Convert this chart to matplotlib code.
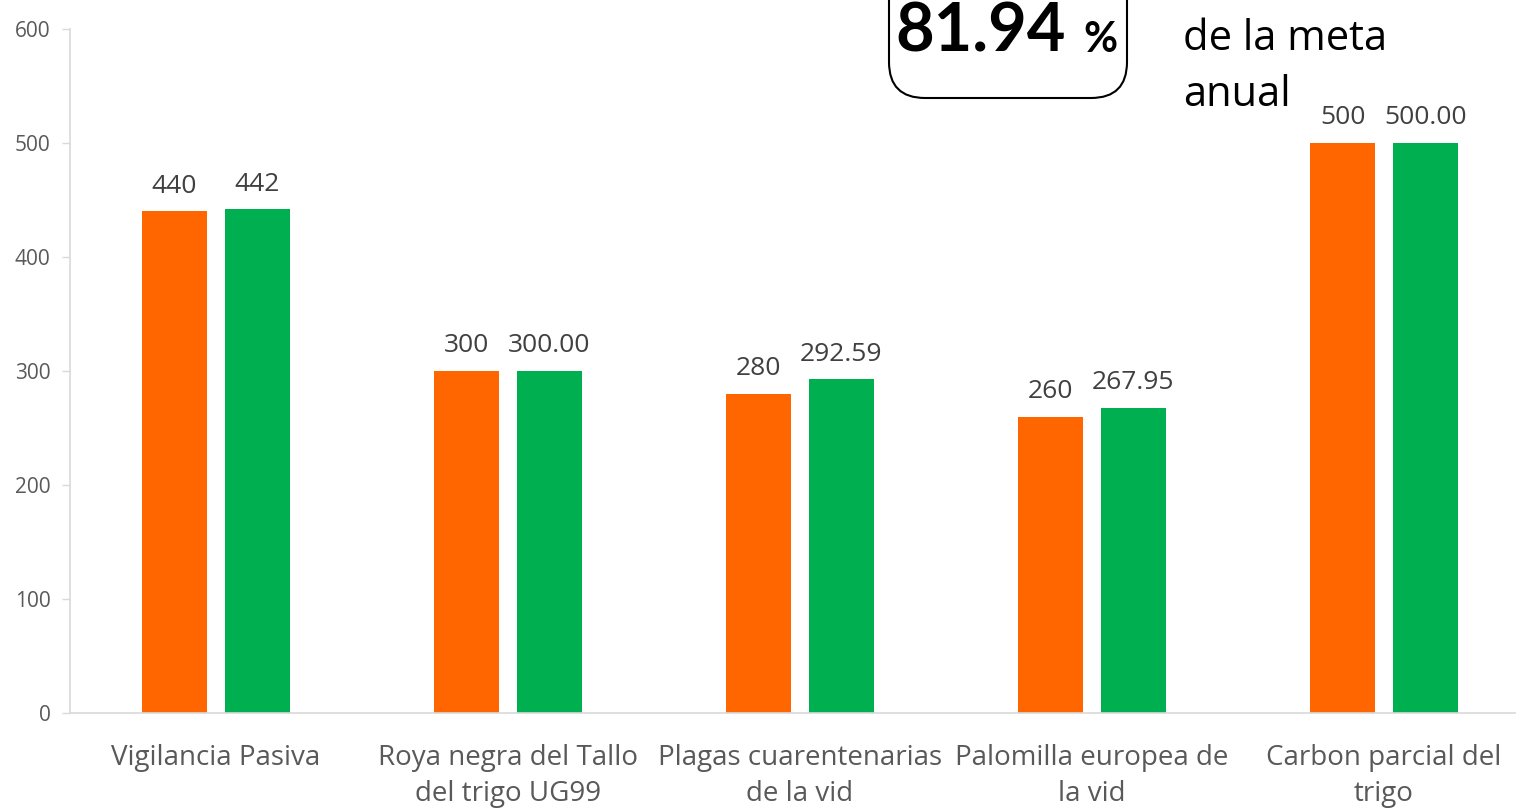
import numpy as np
import matplotlib.pyplot as plt
from matplotlib.patches import FancyBboxPatch
from matplotlib.transforms import IdentityTransform

categories = ['Vigilancia Pasiva', 'Roya negra del Tallo\ndel trigo UG99',
              'Plagas cuarentenarias\nde la vid', 'Palomilla europea de\nla vid',
              'Carbon parcial del\ntrigo']
meta = [440, 300, 280, 260, 500]
logro = [442, 300.00, 292.59, 267.95, 500.00]
meta_labels = ['440', '300', '280', '260', '500']
logro_labels = ['442', '300.00', '292.59', '267.95', '500.00']
porcentaje = '81.94'

plt.rcParams['font.family'] = ['Open Sans', 'DejaVu Sans']

fig = plt.figure(figsize=(15.16, 8.10), dpi=100)
ax = fig.add_axes([70 / 1516, 97 / 810, 1460 / 1516, 684 / 810])

x = np.arange(len(categories))
w = 0.223
b1 = ax.bar(x - 0.142, meta, w, color='#FF6600')
b2 = ax.bar(x + 0.142, logro, w, color='#00B050')

for rect, lab in zip(b1, meta_labels):
    ax.annotate(lab, (rect.get_x() + rect.get_width() / 2, rect.get_height()),
                xytext=(0, 9), textcoords='offset points', ha='center', va='bottom',
                fontsize=19, color='#404040')
for rect, lab in zip(b2, logro_labels):
    ax.annotate(lab, (rect.get_x() + rect.get_width() / 2, rect.get_height()),
                xytext=(0, 9), textcoords='offset points', ha='center', va='bottom',
                fontsize=19, color='#404040')

ax.set_xlim(-0.5, len(categories) - 0.5)
ax.set_ylim(0, 600)
ax.set_yticks(range(0, 700, 100))
ax.tick_params(axis='y', labelsize=15, colors='#595959', length=6, width=1, color='#d9d9d9', pad=8)
ax.set_xticks(x)
ax.set_xticklabels(categories, fontsize=20, color='#595959', linespacing=1.4)
ax.tick_params(axis='x', length=0, pad=22)
for s in ['top', 'right']:
    ax.spines[s].set_visible(False)
for s in ['left', 'bottom']:
    ax.spines[s].set_color('#d9d9d9')
    ax.spines[s].set_linewidth(1.2)

# cuadro con el porcentaje
box = FancyBboxPatch((889, 712), 238, 160, boxstyle='round,pad=0,rounding_size=36',
                     transform=IdentityTransform(), facecolor='white', edgecolor='black',
                     linewidth=1.5, zorder=5)
fig.patches.append(box)
fig.text(895 / 1516, 1 - 52 / 810, porcentaje, fontsize=48, fontweight='bold',
         family=['Lato', 'DejaVu Sans'], ha='left', va='baseline', zorder=6)
fig.text(1083 / 1516, 1 - 52 / 810, '%', fontsize=30, fontweight='bold',
         family=['Lato', 'DejaVu Sans'], ha='left', va='baseline', zorder=6)
fig.text(1183 / 1516, 1 - 50 / 810, 'de la meta', fontsize=30, ha='left', va='baseline')
fig.text(1183 / 1516, 1 - 106 / 810, 'anual', fontsize=30, ha='left', va='baseline')

fig.savefig('out.png', dpi=100)
